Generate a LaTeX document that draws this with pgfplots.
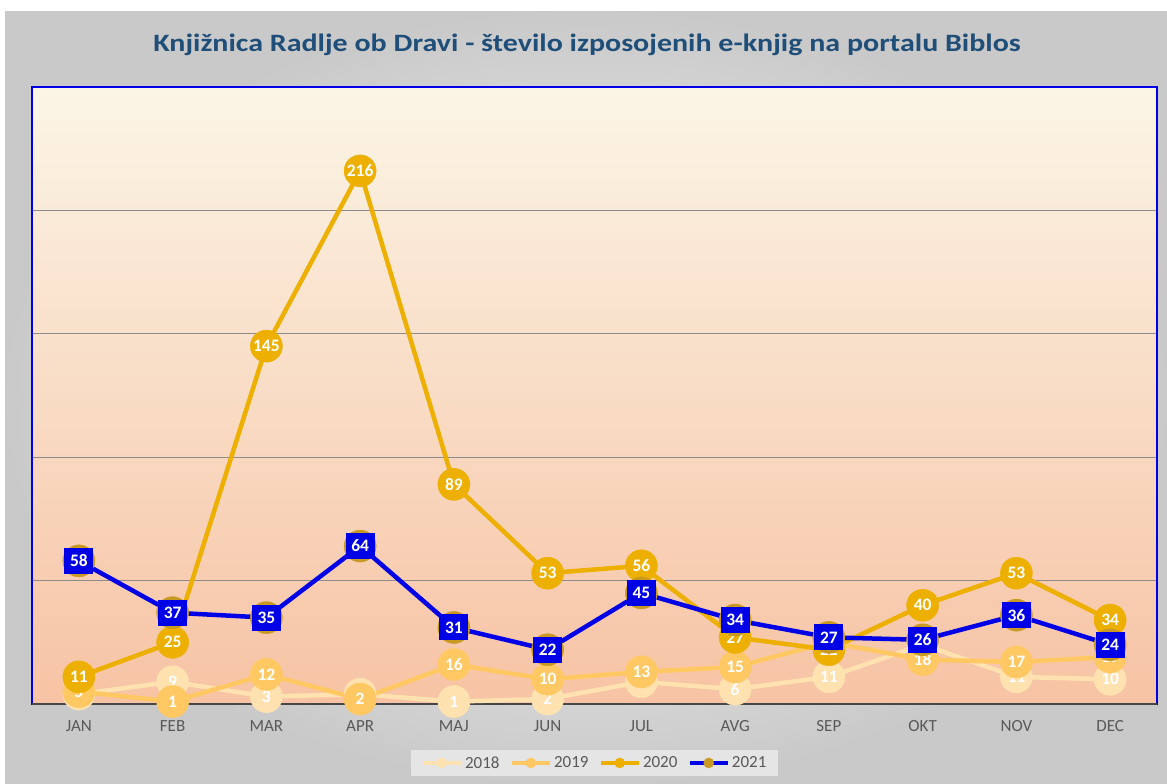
\documentclass[border=0pt]{standalone}
\usepackage{pgfplots}
\pgfplotsset{compat=1.18}
\usepackage{fontspec}
\setmainfont{Carlito}
\definecolor{cA}{HTML}{FFE2B0}
\definecolor{cB}{HTML}{FFC862}
\definecolor{cC}{HTML}{EDB000}
\definecolor{cD}{HTML}{0000E6}
\definecolor{cE}{HTML}{C99A22}
\definecolor{titlec}{HTML}{1F4E79}
\definecolor{tickc}{HTML}{595959}
\definecolor{bgtop}{HTML}{FBF5E6}
\definecolor{bgmid}{HTML}{F9E0C4}
\definecolor{bgbot}{HTML}{F7C3A4}
\begin{document}
\begin{tikzpicture}
\fill[white] (0pt,0pt) rectangle (1167pt,784pt);
\shade[inner color=gray!5, outer color=gray!42] (5pt,0pt) rectangle (1167pt,772pt);
\shade[top color=bgtop, middle color=bgmid, bottom color=bgbot] (32pt,80pt) rectangle (1157pt,697pt);
\node[font=\bfseries\fontsize{25}{30}\selectfont, text=titlec] at (587pt,739pt) {\scalebox{1.2}[1]{Knjižnica Radlje ob Dravi - število izposojenih e-knjig na portalu Biblos}};
\begin{axis}[
  at={(32pt,80pt)}, anchor=south west,
  scale only axis, width=1125pt, height=617pt,
  xmin=-0.5, xmax=11.5, ymin=0, ymax=250,
  clip=false,
  /pgf/number format/assume math mode=true,
  xtick={0,...,11},
  xticklabels={JAN,FEB,MAR,APR,MAJ,JUN,JUL,AVG,SEP,OKT,NOV,DEC},
  ytick={50,100,150,200}, yticklabels={},
  ymajorgrids, grid style={black!45, line width=0.9pt},
  major tick length=0pt,
  axis line style={draw=cD, line width=1.2pt},
  tick label style={font=\fontsize{17}{20}\selectfont, text=tickc},
  xticklabel style={anchor=base, yshift=-28pt},
  nodes near coords,
  nodes near coords align=center,
  every node near coord/.append style={font=\bfseries\fontsize{17.5}{20}\selectfont, text=white, inner sep=0pt},
  legend columns=4,
  legend style={at={(0.5,-0.0956)}, anchor=center, fill=gray!20, draw=none,
    font=\fontsize{17}{20}\selectfont, text=tickc, inner ysep=4pt, inner xsep=10pt,
    /tikz/every even column/.append style={column sep=8pt}},
  legend image code/.code={\draw[mark repeat=2,mark phase=2,#1] plot coordinates {(0pt,0pt) (19pt,0pt) (38pt,0pt)};},
  legend image post style={mark size=5pt},
]
\draw[line width=2.5pt, color=black!72] (axis cs:-0.5,0) -- (axis cs:11.5,0);
\addplot[color=cA, line width=4.5pt, mark=*, mark size=16pt, mark options={fill=cA, draw=cA, line width=0.5pt}]
 coordinates {(0,4) (1,9) (2,3) (3,4) (4,1) (5,2) (6,9) (7,6) (8,11) (9,24) (10,11) (11,10)};
\addplot[color=cB, line width=4.5pt, mark=*, mark size=16pt, mark options={fill=cB, draw=cB, line width=0.5pt}]
 coordinates {(0,5) (1,1) (2,12) (3,2) (4,16) (5,10) (6,13) (7,15) (8,25) (9,18) (10,17) (11,19)};
\addplot[color=cC, line width=4.5pt, mark=*, mark size=16pt, mark options={fill=cC, draw=cC, line width=0.5pt}]
 coordinates {(0,11) (1,25) (2,145) (3,216) (4,89) (5,53) (6,56) (7,27) (8,22) (9,40) (10,53) (11,34)};
\addplot[color=cD, line width=4.5pt, mark=*, mark size=16pt, mark options={fill=cE, draw=cE, line width=0.5pt},
  every node near coord/.append style={fill=cD, minimum width=29pt, minimum height=26pt}]
 coordinates {(0,58) (1,37) (2,35) (3,64) (4,31) (5,22) (6,45) (7,34) (8,27) (9,26) (10,36) (11,24)};
\legend{2018,2019,2020,2021}
\end{axis}
\end{tikzpicture}
\end{document}
